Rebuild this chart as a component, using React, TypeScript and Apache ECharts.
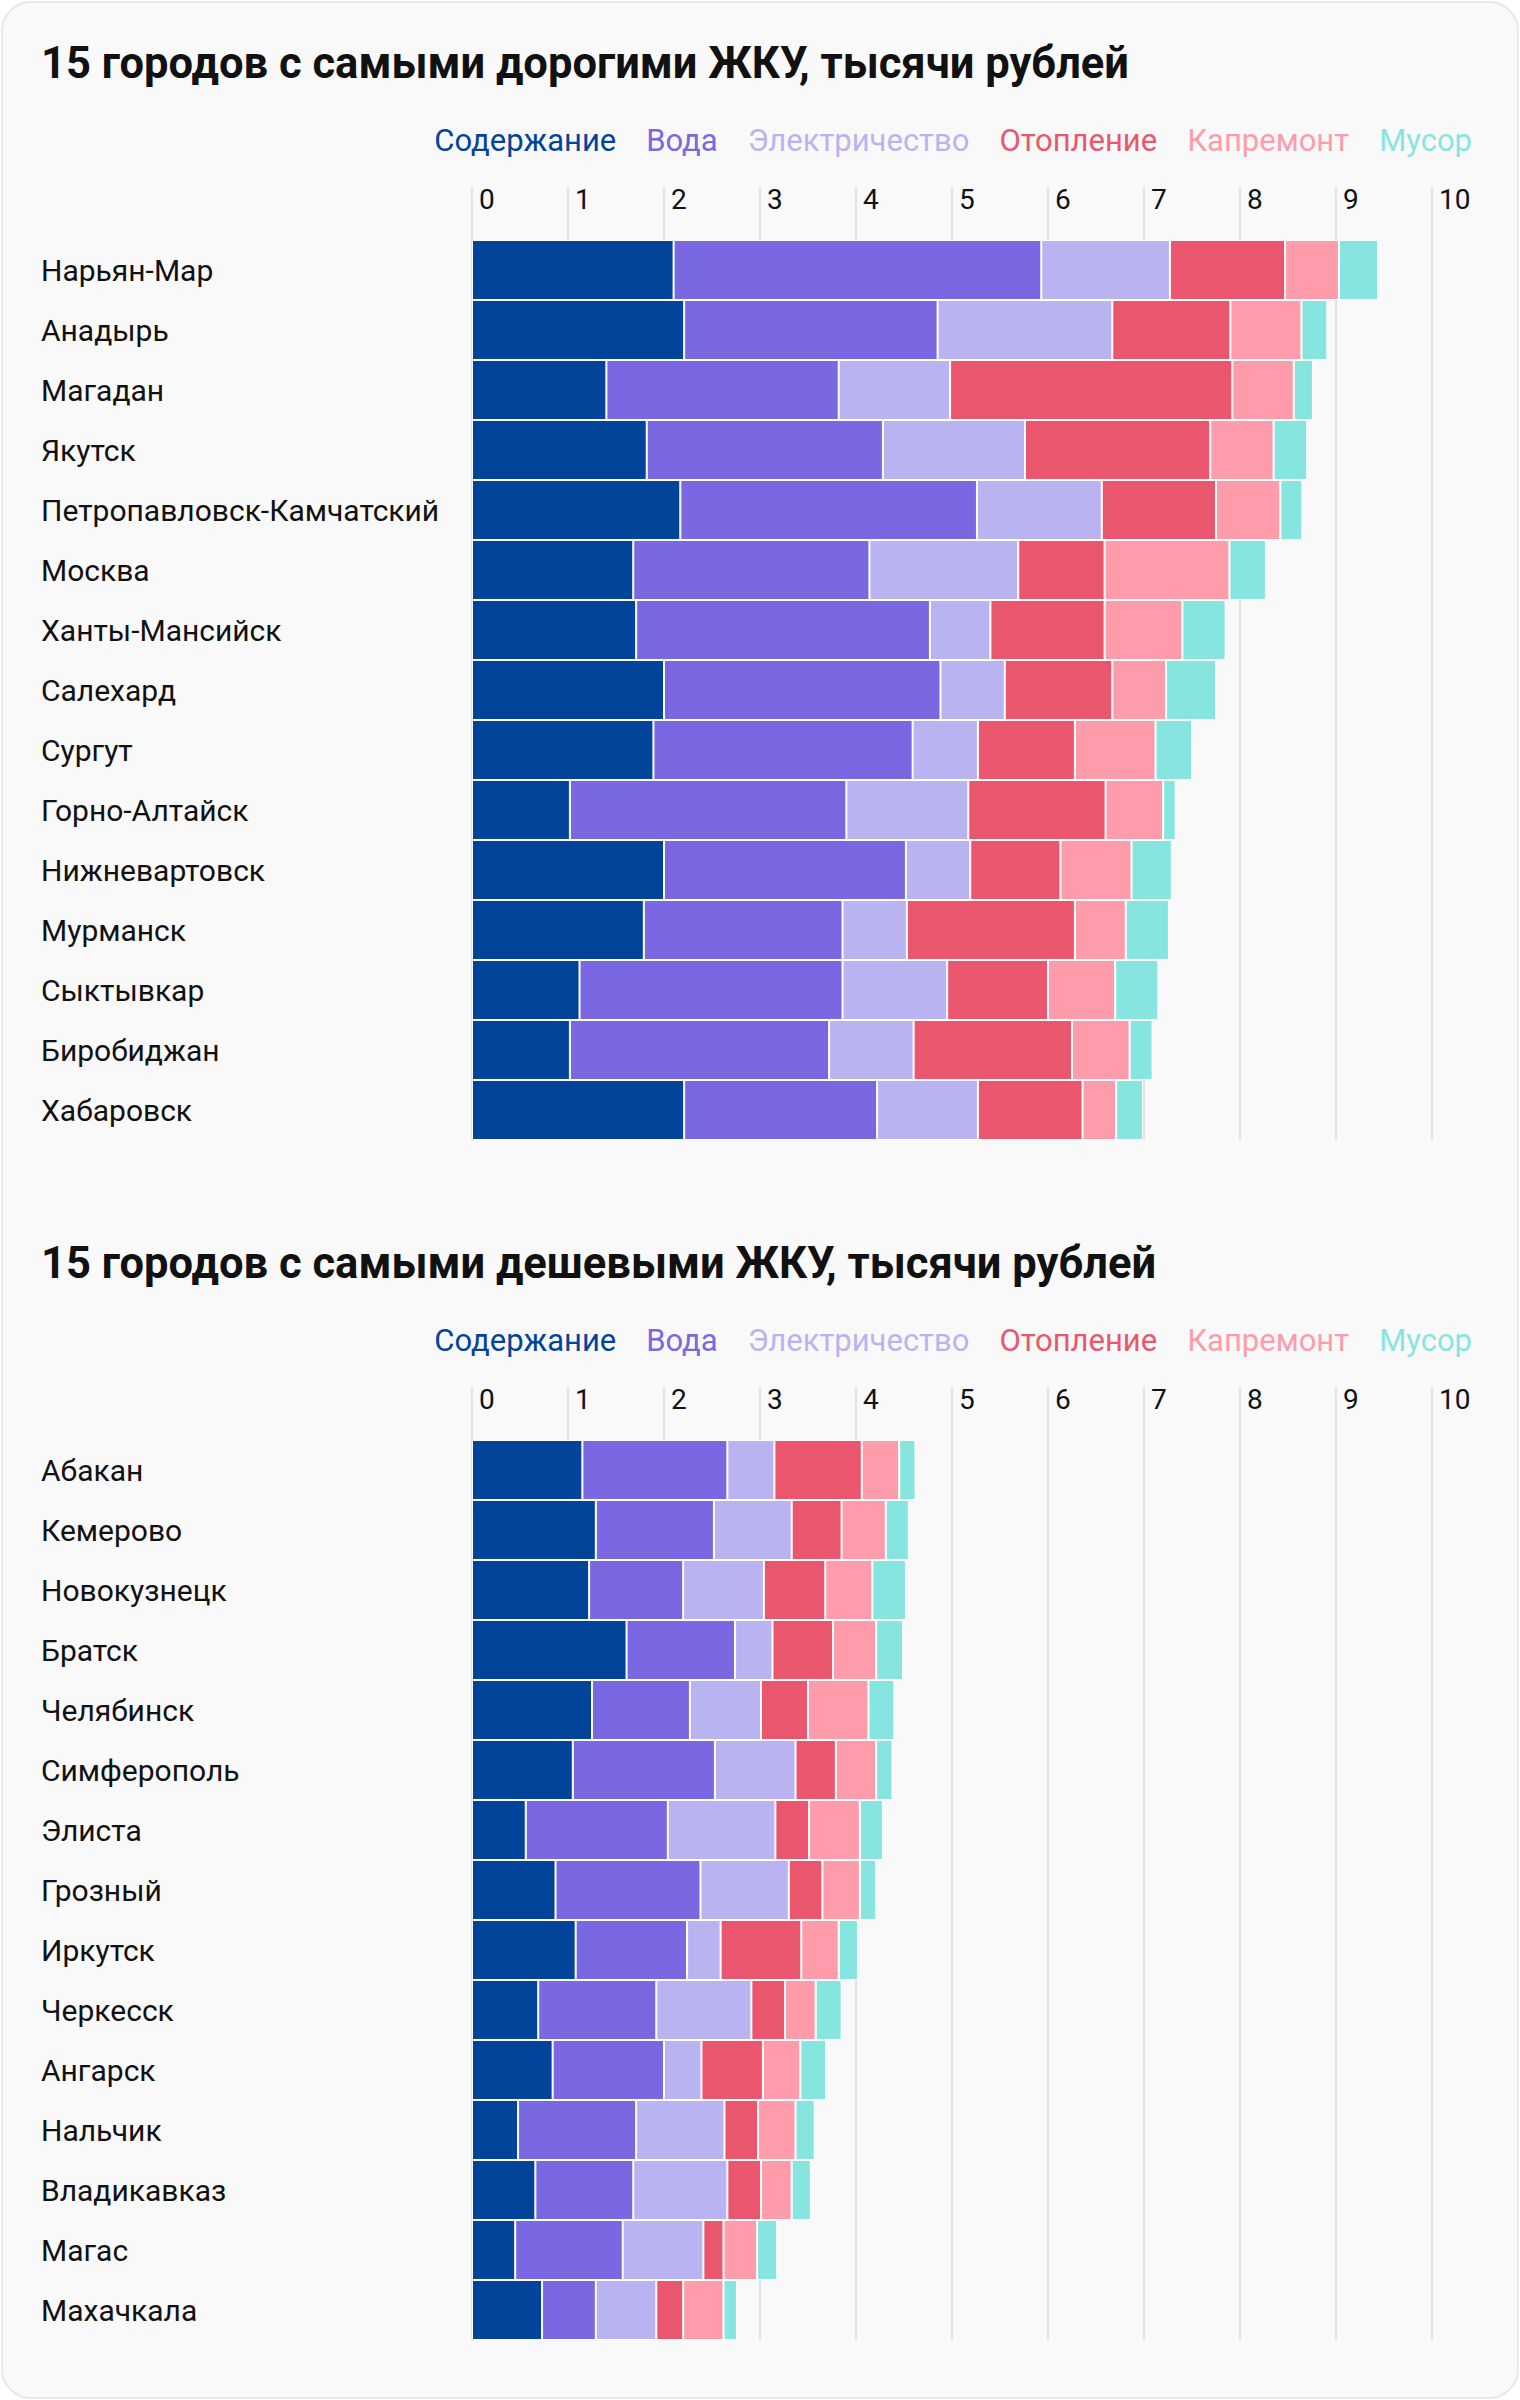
import React, { useEffect, useRef } from "react";
import * as echarts from "echarts";

const FONT = "Roboto";

const SERIES_NAMES = ["Содержание", "Вода", "Электричество", "Отопление", "Капремонт", "Мусор"];
const COLORS = ["#02449a", "#7a67e2", "#bab3f1", "#e9566e", "#ff9cab", "#87e5df"];

const TITLE_TOP = "15 городов с самыми дорогими ЖКУ, тысячи рублей";
const TITLE_BOTTOM = "15 городов с самыми дешевыми ЖКУ, тысячи рублей";

const X_TICKS = [0, 1, 2, 3, 4, 5, 6, 7, 8, 9, 10];

// Top chart: most expensive
const cities1 = ["Нарьян-Мар", "Анадырь", "Магадан", "Якутск", "Петропавловск-Камчатский", "Москва", "Ханты-Мансийск", "Салехард", "Сургут", "Горно-Алтайск", "Нижневартовск", "Мурманск", "Сыктывкар", "Биробиджан", "Хабаровск"];
const maint1 = [2.10, 2.21, 1.40, 1.82, 2.17, 1.68, 1.71, 2.00, 1.89, 1.02, 2.00, 1.79, 1.12, 1.02, 2.21];
const water1 = [3.83, 2.64, 2.42, 2.46, 3.09, 2.46, 3.06, 2.88, 2.70, 2.88, 2.52, 2.07, 2.74, 2.70, 2.01];
const elec1 = [1.34, 1.82, 1.16, 1.48, 1.30, 1.55, 0.63, 0.67, 0.68, 1.27, 0.67, 0.67, 1.09, 0.88, 1.05];
const heat1 = [1.20, 1.23, 2.94, 1.93, 1.19, 0.90, 1.19, 1.12, 1.01, 1.43, 0.94, 1.75, 1.05, 1.65, 1.09];
const repair1 = [0.56, 0.74, 0.64, 0.66, 0.67, 1.30, 0.81, 0.56, 0.84, 0.60, 0.74, 0.53, 0.70, 0.60, 0.35];
const trash1 = [0.41, 0.27, 0.20, 0.35, 0.23, 0.38, 0.45, 0.52, 0.38, 0.13, 0.42, 0.45, 0.45, 0.24, 0.28];

// Bottom chart: cheapest
const cities2 = ["Абакан", "Кемерово", "Новокузнецк", "Братск", "Челябинск", "Симферополь", "Элиста", "Грозный", "Иркутск", "Черкесск", "Ангарск", "Нальчик", "Владикавказ", "Магас", "Махачкала"];
const maint2 = [1.15, 1.29, 1.22, 1.61, 1.25, 1.05, 0.56, 0.87, 1.08, 0.69, 0.84, 0.48, 0.66, 0.45, 0.73];
const water2 = [1.51, 1.23, 0.98, 1.13, 1.02, 1.48, 1.48, 1.51, 1.16, 1.23, 1.16, 1.23, 1.02, 1.12, 0.56];
const elec2 = [0.49, 0.81, 0.84, 0.39, 0.74, 0.84, 1.12, 0.92, 0.35, 0.99, 0.39, 0.92, 0.98, 0.84, 0.63];
const heat2 = [0.91, 0.52, 0.64, 0.63, 0.49, 0.42, 0.35, 0.35, 0.84, 0.35, 0.64, 0.35, 0.35, 0.21, 0.28];
const repair2 = [0.39, 0.46, 0.49, 0.45, 0.63, 0.42, 0.53, 0.39, 0.39, 0.32, 0.39, 0.39, 0.32, 0.35, 0.42];
const trash2 = [0.17, 0.24, 0.35, 0.28, 0.27, 0.17, 0.24, 0.17, 0.20, 0.27, 0.27, 0.20, 0.20, 0.21, 0.14];

const data1 = [maint1, water1, elec1, heat1, repair1, trash1];
const data2 = [maint2, water2, elec2, heat2, repair2, trash2];

const OFFSET = 1200;
const GRID_TOP = 240;
const GRID_LEFT = 472;
const GRID_RIGHT = 88;
const GRID_H = 900;
const GRID_COLOR = "#e3e3e3";

function buildOption() {
  const titles = [TITLE_TOP, TITLE_BOTTOM].map((t, i) => ({
    text: t,
    left: 41,
    top: 42 + i * OFFSET,
    padding: 0,
    textStyle: { fontFamily: FONT, fontSize: 43.5, fontWeight: "bold", color: "#111", lineHeight: 43 },
  }));
  const legends = [0, 1].map((i) => ({
    top: 125 + i * OFFSET,
    right: 48,
    padding: 0,
    itemWidth: 0,
    itemHeight: 0,
    itemGap: 24,
    icon: "rect",
    selectedMode: false,
    textStyle: { fontFamily: FONT, fontSize: 31, lineHeight: 31 },
    data: SERIES_NAMES.map((n, k) => ({ name: n, textStyle: { color: COLORS[k] } })),
  }));
  const grids = [0, 1].map((i) => ({
    left: GRID_LEFT,
    right: GRID_RIGHT,
    top: GRID_TOP + i * OFFSET,
    height: GRID_H,
    containLabel: false,
    outerBoundsMode: "none",
  }));
  const xAxes = [0, 1].map((i) => ({
    type: "value",
    gridIndex: i,
    position: "top",
    min: X_TICKS[0],
    max: X_TICKS[X_TICKS.length - 1],
    interval: 1,
    axisLine: { show: false },
    axisTick: { show: true, length: 53, lineStyle: { color: GRID_COLOR, width: 2 } },
    splitLine: { show: true, lineStyle: { color: GRID_COLOR, width: 2 } },
    axisLabel: {
      show: true,
      margin: 55,
      verticalAlign: "top",
      align: "left",
      padding: [0, 0, 0, 7],
      fontFamily: FONT,
      fontSize: 28,
      lineHeight: 28,
      color: "#111",
    },
  }));
  const yAxes = [cities1, cities2].map((c, i) => ({
    type: "category",
    gridIndex: i,
    data: c,
    inverse: true,
    axisLine: { show: false },
    axisTick: { show: false },
    splitLine: { show: false },
    axisLabel: {
      interval: 0,
      align: "left",
      margin: GRID_LEFT - 41,
      padding: [0, 0, 2, 0],
      fontFamily: FONT,
      fontSize: 30,
      color: "#111",
    },
  }));
  const series: any[] = [];
  [data1, data2].forEach((d, gi) => {
    d.forEach((vals, k) => {
      series.push({
        type: "bar",
        name: SERIES_NAMES[k],
        xAxisIndex: gi,
        yAxisIndex: gi,
        stack: "s" + gi,
        barCategoryGap: "0%",
        data: vals,
        itemStyle: { color: COLORS[k], borderColor: "#ffffff", borderWidth: 1 },
        emphasis: { disabled: true },
      });
    });
  });
  return {
    animation: false,
    textStyle: { fontFamily: FONT },
    title: titles,
    legend: legends,
    grid: grids,
    xAxis: xAxes,
    yAxis: yAxes,
    series,
  };
}

export default function App() {
  const ref = useRef<HTMLDivElement>(null);
  useEffect(() => {
    if (!ref.current) return;
    const chart = echarts.init(ref.current, undefined, { renderer: "svg" });
    chart.setOption(buildOption() as any);
    return () => chart.dispose();
  }, []);
  return (
    <div style={{ position: "absolute", left: 0, top: 0, width: 1520, height: 2400, background: "#ffffff" }}>
      <div
        style={{
          position: "absolute",
          left: 1,
          top: 1,
          width: 1518,
          height: 2398,
          boxSizing: "border-box",
          border: "2px solid #e8e8e8",
          borderRadius: 30,
          background: "#f9f9f9",
        }}
      />
      <div ref={ref} style={{ position: "absolute", left: 0, top: 0, width: 1520, height: 2400 }} />
    </div>
  );
}
